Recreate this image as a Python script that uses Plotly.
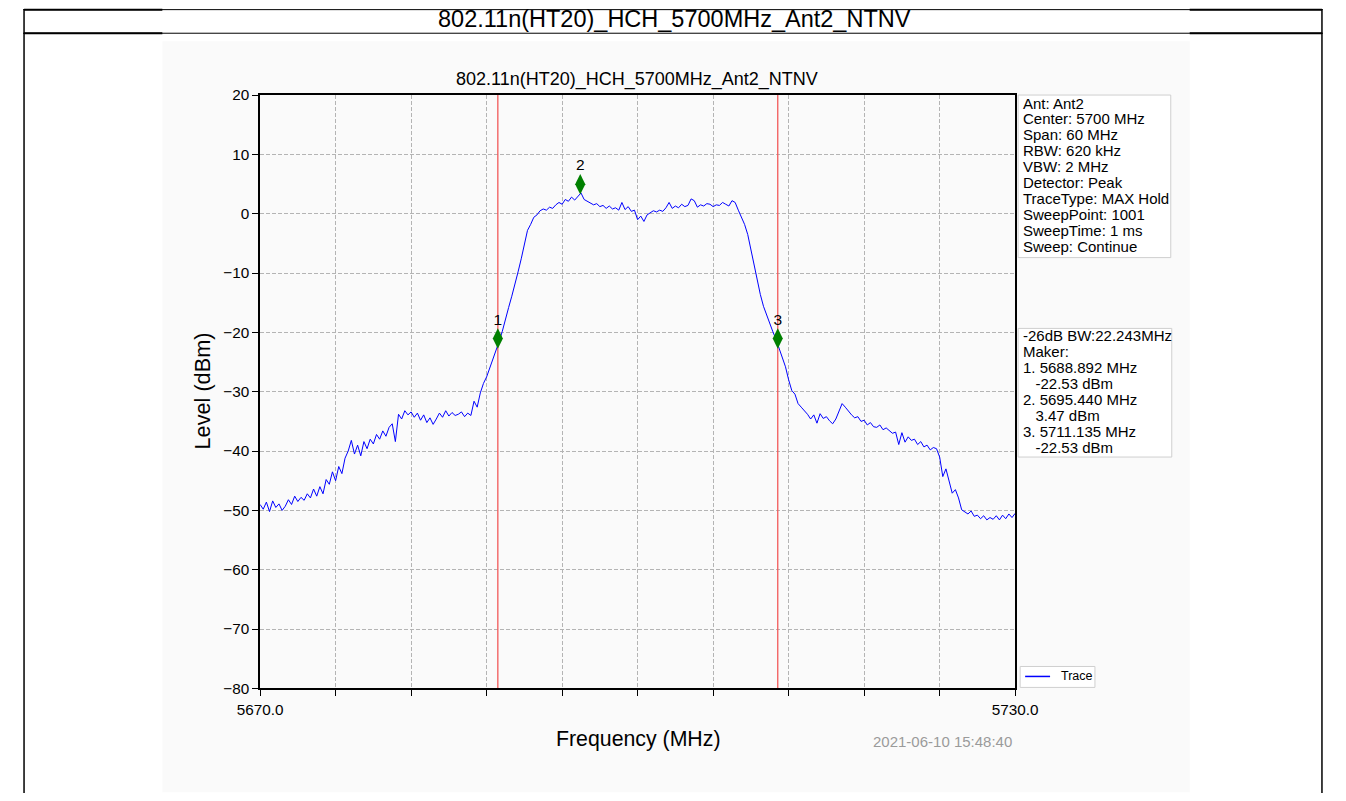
import plotly.graph_objects as go

W, H = 1346, 801

# ---- data ----
# sweep grid: 5670 MHz start, 0.25 MHz per sample
start_mhz = 5670.0
step_mhz = 0.25
level_dbm = [
    -49.0, -49.8, -48.6, -50.2,   # 5670
    -48.4, -49.5, -48.9, -50.0,   # 5671
    -49.3, -48.2, -49.0, -47.6,   # 5672
    -48.5, -47.8, -48.3, -47.2,   # 5673
    -47.9, -46.4, -47.6, -46.0,   # 5674
    -47.2, -44.8, -45.6, -43.5,   # 5675
    -45.0, -42.6, -43.8, -41.2,   # 5676
    -40.0, -38.2, -40.5, -39.0,   # 5677
    -40.8, -38.4, -39.6, -38.0,   # 5678
    -38.8, -37.2, -38.0, -36.6,   # 5679
    -37.5, -36.0, -35.4, -38.4,   # 5680
    -33.8, -34.6, -33.2, -33.9,   # 5681
    -33.4, -34.3, -33.6, -34.8,   # 5682
    -33.9, -35.2, -34.4, -35.5,   # 5683
    -34.6, -33.6, -34.3, -33.2,   # 5684
    -34.1, -33.5, -34.0, -33.8,   # 5685
    -33.4, -34.2, -33.6, -34.0,   # 5686
    -31.6, -32.6, -30.2, -28.6,   # 5687
    -27.5, -26.0, -24.6, -23.2,   # 5688
    -21.5, -19.8, -18.0, -15.8,   # 5689
    -13.9, -12.0, -9.8, -7.6,     # 5690
    -5.4, -2.8, -1.8, -0.6,       # 5691
    -0.2, 0.5, 0.8, 0.6,          # 5692
    1.1, 0.9, 1.5, 1.9,           # 5693
    1.6, 2.4, 2.1, 2.8,           # 5694
    2.3, 3.0, 3.5, 2.4,           # 5695
    2.1, 1.8, 1.5, 1.7,           # 5696
    1.2, 1.4, 0.9, 1.3,           # 5697
    0.8, 1.0, 0.6, 1.9,           # 5698
    0.7, 1.2, 0.4, 0.6,           # 5699
    -1.0, -0.4, -1.3, -0.2,       # 5700
    0.2, 0.5, 0.3, 0.6,           # 5701
    0.4, 1.0, 1.9, 0.9,           # 5702
    1.3, 1.0, 1.6, 1.2,           # 5703
    1.4, 2.5, 2.2, 1.1,           # 5704
    1.5, 1.3, 1.7, 1.6,           # 5705
    1.2, 1.5, 1.4, 1.9,           # 5706
    1.6, 1.3, 2.2, 1.9,           # 5707
    0.6, -0.7, -1.8, -3.5,        # 5708
    -6.0, -8.5, -11.5, -13.6,     # 5709
    -15.6, -17.1, -18.6, -19.9,   # 5710
    -21.2, -22.8, -24.2, -25.8,   # 5711
    -28.0, -29.8, -30.4, -32.0,   # 5712
    -32.6, -33.2, -33.8, -34.6,   # 5713
    -33.9, -35.3, -33.7, -34.5,   # 5714
    -34.2, -34.9, -35.4, -34.6,   # 5715
    -33.2, -32.0, -32.6, -33.3,   # 5716
    -33.9, -34.4, -34.2, -35.0,   # 5717
    -34.8, -35.6, -35.2, -35.9,   # 5718
    -36.0, -35.6, -36.4, -36.1,   # 5719
    -36.6, -37.0, -36.8, -38.9,   # 5720
    -36.9, -38.5, -37.6, -38.2,   # 5721
    -38.0, -38.9, -38.4, -39.3,   # 5722
    -39.0, -39.8, -39.4, -39.6,   # 5723
    -41.0, -44.3, -43.0, -44.9,   # 5724
    -47.1, -46.5, -47.9, -49.9,   # 5725
    -50.3, -50.6, -50.1, -51.0,   # 5726
    -50.8, -51.4, -50.9, -51.6,   # 5727
    -51.2, -51.5, -50.9, -51.6,   # 5728
    -50.8, -51.4, -50.6, -51.2,   # 5729
    -50.5,                        # 5730
]
freq_mhz = [start_mhz + i * step_mhz for i in range(len(level_dbm))]

marker_freq = [5688.892, 5695.440, 5711.135]
marker_level = [-22.53, 3.47, -22.53]
marker_label = ["1", "2", "3"]

x_tick_vals = [5670, 5676, 5682, 5688, 5694, 5700, 5706, 5712, 5718, 5724, 5730]
x_tick_text = ["5670.0", "", "", "", "", "", "", "", "", "", "5730.0"]
y_tick_vals = [-80, -70, -60, -50, -40, -30, -20, -10, 0, 10, 20]

title_text = "802.11n(HT20)_HCH_5700MHz_Ant2_NTNV"
info_lines = ["Ant: Ant2", "Center: 5700 MHz", "Span: 60 MHz", "RBW: 620 kHz",
              "VBW: 2 MHz", "Detector: Peak", "TraceType: MAX Hold",
              "SweepPoint: 1001", "SweepTime: 1 ms", "Sweep: Continue"]
bw_text = "-26dB BW:22.243MHz"
timestamp = "2021-06-10 15:48:40"

FONT = "Liberation Sans, Arial, sans-serif"

# the captured picture shows the page slightly shrunk and centred,
# so positions measured on the reference are mapped back to page pixels
SX, OX = 0.9683, 20.3
SY, OY = 0.9815, 7.7


def px(x):
    return min(max((x - OX) / SX / W, 0.0008), 0.9992)


def py(y):
    return min(max(1 - (y - OY) / SY / H, 0.0008), 0.9992)


fig = go.Figure()

# red bandwidth lines at markers 1 and 3
for f in (marker_freq[0], marker_freq[2]):
    fig.add_trace(go.Scatter(x=[f, f], y=[-80, 20], mode="lines",
                             line=dict(color="#f25a5a", width=1.3),
                             hoverinfo="skip"))

fig.add_trace(go.Scatter(x=freq_mhz, y=level_dbm, mode="lines", name="Trace",
                         line=dict(color="#0000ff", width=1)))

# markers drawn slightly above the measured level, like the analyzer plot
fig.add_trace(go.Scatter(
    x=marker_freq, y=[v + 1.5 for v in marker_level],
    mode="markers+text", text=marker_label, textposition="top center",
    textfont=dict(size=15.5, color="black", family=FONT),
    marker=dict(symbol="diamond-tall", size=14.5, color="#008000"),
))

fig.update_xaxes(
    range=[5670, 5730], domain=[px(258), px(1015)],
    tickmode="array", tickvals=x_tick_vals, ticktext=x_tick_text,
    ticks="outside", ticklen=6, tickwidth=1.2, tickcolor="black",
    showline=True, linecolor="black", linewidth=1.5, mirror=True,
    showgrid=True, gridcolor="#b4b4b4", gridwidth=0.8, griddash="4px,2px",
    zeroline=False, tickfont=dict(size=15.3, color="black"),
)
fig.update_yaxes(
    range=[-80, 20], domain=[py(689), py(94)],
    tickmode="array", tickvals=y_tick_vals,
    ticks="outside", ticklen=6, tickwidth=1.2, tickcolor="black",
    showline=True, linecolor="black", linewidth=1.5, mirror=True,
    showgrid=True, gridcolor="#b4b4b4", gridwidth=0.8, griddash="4px,2px",
    zeroline=False, tickfont=dict(size=15.3, color="black"),
)

shapes = []
# light figure background of the embedded chart image
shapes.append(dict(type="rect", xref="paper", yref="paper", layer="below",
                   x0=px(160), x1=px(1190), y0=py(801), y1=py(40),
                   fillcolor="#fafafa", line=dict(width=0)))
# table borders
for yy in (4, 32):
    shapes.append(dict(type="line", xref="paper", yref="paper",
                       x0=0, x1=1, y0=py(yy), y1=py(yy),
                       line=dict(color="black", width=1)))
    for a, b in ((0, 160), (1190, 1346)):
        shapes.append(dict(type="line", xref="paper", yref="paper",
                           x0=px(a), x1=px(b), y0=py(yy), y1=py(yy),
                           line=dict(color="black", width=2)))
for xx in (4, 1342):
    shapes.append(dict(type="line", xref="paper", yref="paper",
                       x0=px(xx), x1=px(xx), y0=0, y1=py(4),
                       line=dict(color="black", width=1.5)))
# info boxes and legend frame
for x0, x1, y0, y1 in ((1018, 1171, 94, 257), (1018, 1172, 328, 457),
                       (1020, 1095, 667, 688)):
    shapes.append(dict(type="rect", xref="paper", yref="paper",
                       x0=px(x0), x1=px(x1), y0=py(y1), y1=py(y0),
                       fillcolor="white", line=dict(color="#cfcfcf", width=1)))
# legend sample line
shapes.append(dict(type="line", xref="paper", yref="paper",
                   x0=px(1025), x1=px(1050), y0=py(677), y1=py(677),
                   line=dict(color="#0000ff", width=1.5)))

annotations = []


def note(text, x, y, size=15, anchor="left", color="black", angle=0):
    annotations.append(dict(text=text, x=px(x), y=py(y), xref="paper", yref="paper",
                            xanchor=anchor, yanchor="middle", showarrow=False,
                            textangle=angle,
                            font=dict(size=size, color=color, family=FONT)))


note(title_text, 673, 18, size=23.5, anchor="center")
note(title_text, 636, 78, size=18, anchor="center")
note("Level (dBm)", 200, 391, size=21.7, anchor="center", angle=-90)
note("Frequency (MHz)", 637, 740, size=21.3, anchor="center")
note(timestamp, 1014, 742, size=15, anchor="right", color="#9a9a9a")

for k, line in enumerate(info_lines):
    note(line, 1021, 102 + 16 * k)

bw_lines = [bw_text, "Maker:"]
for lab, f, v in zip(marker_label, marker_freq, marker_level):
    bw_lines.append(f"{lab}. {f:.3f} MHz")
    bw_lines.append("\u00a0\u00a0\u00a0" + f"{v:.2f} dBm")
for k, line in enumerate(bw_lines):
    note(line, 1021, 335 + 16 * k)

note("Trace", 1059, 677, size=12.5)

# let the figure fill the browser window
fig.update_layout(
    autosize=True,
    margin=dict(l=0, r=0, t=0, b=0),
    paper_bgcolor="white", plot_bgcolor="white",
    showlegend=False,
    font=dict(family=FONT, color="black"),
    shapes=shapes, annotations=annotations,
)

fig.write_html(
    "out.html",
    config={"displayModeBar": False, "responsive": True},
    default_width="100vw", default_height="100vh",
    post_script="document.body.style.margin='0';document.body.style.overflow='hidden';",
)
